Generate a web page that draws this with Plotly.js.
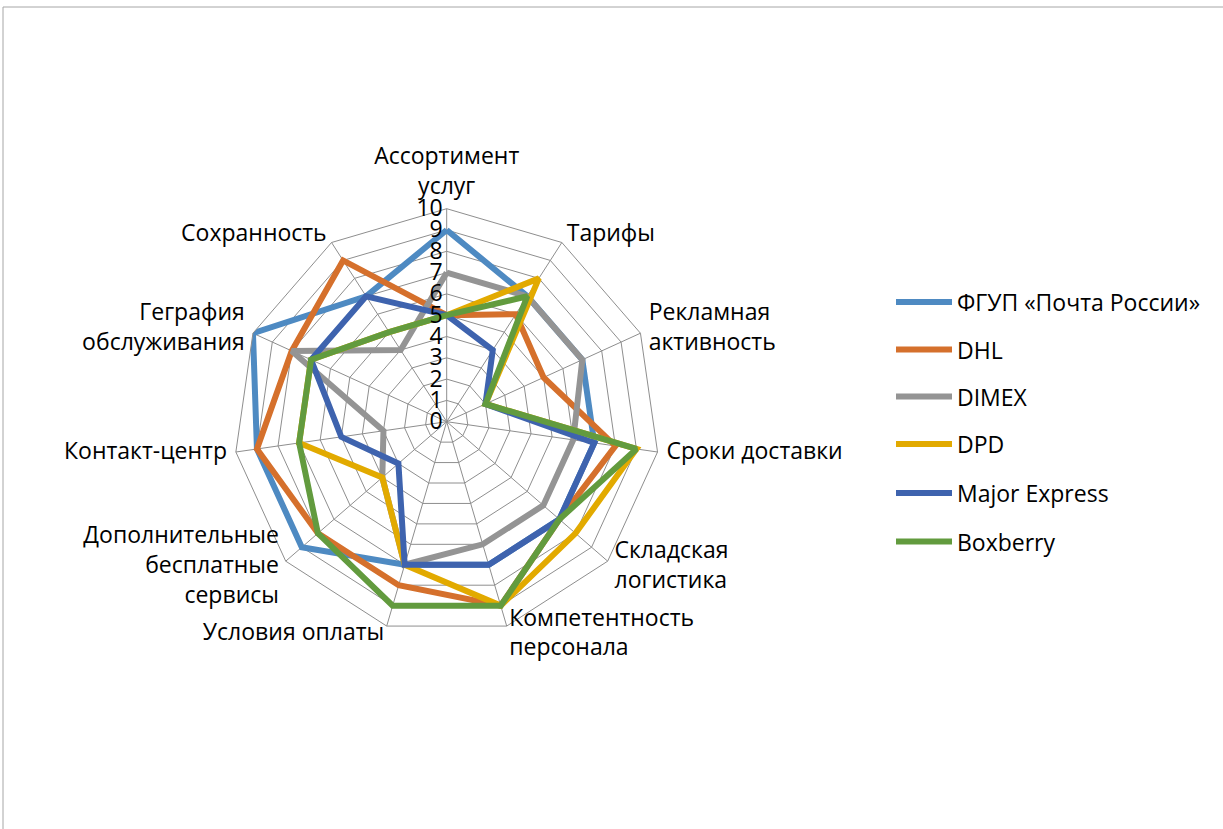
<!DOCTYPE html>
<html>
<head>
<meta charset="utf-8">
<script src="https://cdn.plot.ly/plotly-3.0.1.min.js"></script>
<style>html,body{margin:0;padding:0;background:#fff;}#chart{width:1223px;height:829px;}</style>
</head>
<body>
<div id="chart"></div>
<script>
// Categories (clockwise from top)
const categories = [
  "Ассортимент<br>услуг",
  "Тарифы",
  "Рекламная<br>активность",
  "Сроки доставки",
  "Складская<br>логистика",
  "Компетентность<br>персонала",
  "Условия оплаты",
  "Дополнительные<br>бесплатные<br>сервисы",
  "Контакт-центр",
  "Геграфия<br>обслуживания",
  "Сохранность"
];
const seriesNames = ["ФГУП «Почта России»", "DHL", "DIMEX", "DPD", "Major Express", "Boxberry"];
const pochta   = [9, 7, 7, 7, 7, 7, 7, 9, 9, 10, 7];
const dhl      = [5, 6, 5, 8, 7, 9, 8, 8, 9, 8, 9];
const dimex    = [7, 7, 7, 6, 6, 6, 7, 4, 3, 8, 4];
const dpd      = [5, 8, 2, 9, 8, 9, 7, 4, 7, 7, 5];
const major    = [5, 4, 2, 7, 7, 7, 7, 3, 5, 7, 7];
const boxberry = [5, 7, 2, 9, 7, 9, 9, 8, 7, 7, 5];
const seriesValues = [pochta, dhl, dimex, dpd, major, boxberry];
const radialTicks = [0,1,2,3,4,5,6,7,8,9,10];

// Styles / layout constants
const seriesColors = ["#4E8AC2", "#D5702C", "#949494", "#E2AA00", "#3E63AE", "#629B3E"];
const FONT = "Open Sans, Noto Sans, sans-serif";
const FSIZE = 23;
const RMAX = 10;
const W = 1223, H = 829;
const CX = 446.7, CY = 421.7, RAD = 213, LABEL_RAD = 222;
const labelPositions = ["top center", "middle right", "middle right", "middle right",
  "middle right", "middle right", "middle left", "middle left", "middle left",
  "middle left", "middle left"];

function domainFor(rad) {
  return {x: [(CX - rad) / W, (CX + rad) / W], y: [(H - CY - rad) / H, (H - CY + rad) / H]};
}

const traces = seriesValues.map((vals, i) => ({
  type: "scatterpolar",
  subplot: "polar",
  mode: "lines",
  r: vals.concat([vals[0]]),
  theta: categories.concat([categories[0]]),
  name: seriesNames[i],
  line: {color: seriesColors[i], width: 6, shape: "linear"},
  showlegend: false,
  hoverinfo: "skip"
}));

// category labels: drawn on a second, slightly larger (hidden) polar frame with the same centre
traces.push({
  type: "scatterpolar",
  subplot: "polar2",
  mode: "text",
  r: categories.map(() => RMAX),
  theta: categories,
  text: categories,
  textposition: labelPositions,
  textfont: {family: FONT, size: FSIZE, color: "#000"},
  cliponaxis: false,
  showlegend: false,
  hoverinfo: "skip"
});

// Manual legend (long line samples like the original)
const legendRowsY = [302, 349.5, 396.5, 444, 493, 541.5];
const shapes = [
  {type: "rect", xref: "paper", yref: "paper",
   x0: 3/W, x1: 1.02, y0: -0.02, y1: (H-7)/H,
   line: {color: "#A6A6A6", width: 1}, fillcolor: "rgba(0,0,0,0)", layer: "below"}
];
const annotations = [];
seriesNames.forEach((nm, i) => {
  const yp = (H - legendRowsY[i]) / H;
  shapes.push({type: "line", xref: "paper", yref: "paper",
    x0: 896/W, x1: 952/W, y0: yp, y1: yp,
    line: {color: seriesColors[i], width: 6}});
  annotations.push({xref: "paper", yref: "paper", x: 955/W, y: yp,
    xanchor: "left", yanchor: "middle", showarrow: false, text: nm,
    font: {family: FONT, size: FSIZE, color: "#000"}});
});

const angularBase = {
  type: "category",
  categoryarray: categories,
  rotation: 90,
  direction: "clockwise"
};

const layout = {
  width: W, height: H,
  margin: {l: 0, r: 0, t: 0, b: 0},
  paper_bgcolor: "#fff",
  showlegend: false,
  font: {family: FONT, size: FSIZE, color: "#000"},
  polar: {
    domain: domainFor(RAD),
    gridshape: "linear",
    bgcolor: "#fff",
    angularaxis: Object.assign({}, angularBase, {
      showline: true,
      linecolor: "#8E8E8E",
      linewidth: 1,
      gridcolor: "#8E8E8E",
      gridwidth: 1,
      ticks: "",
      showticklabels: false
    }),
    radialaxis: {
      range: [0, RMAX],
      tickvals: radialTicks,
      ticktext: radialTicks.map(String),
      angle: 90,
      tickangle: 90,
      side: "counterclockwise",
      showline: false,
      gridcolor: "#8E8E8E",
      gridwidth: 1,
      ticks: "",
      tickfont: {family: FONT, size: FSIZE, color: "#000"}
    }
  },
  polar2: {
    domain: domainFor(LABEL_RAD),
    gridshape: "linear",
    bgcolor: "rgba(0,0,0,0)",
    angularaxis: Object.assign({}, angularBase, {
      visible: false, showline: false, showgrid: false, showticklabels: false, ticks: ""
    }),
    radialaxis: {
      range: [0, RMAX], visible: false, showline: false, showgrid: false,
      showticklabels: false, ticks: ""
    }
  },
  shapes: shapes,
  annotations: annotations
};

Plotly.newPlot("chart", traces, layout, {staticPlot: true});
</script>
</body>
</html>
